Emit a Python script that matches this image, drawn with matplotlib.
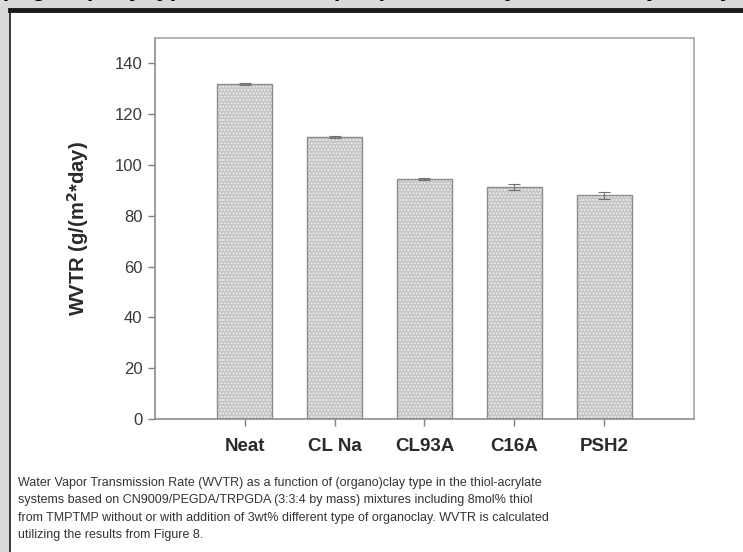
import matplotlib.pyplot as plt
from matplotlib.patches import Rectangle
from matplotlib.lines import Line2D

# WVTR per (organo)clay type
categories = ["Neat", "CL Na", "CL93A", "C16A", "PSH2"]
wvtr = [132, 111, 94.5, 91.5, 88]
wvtr_err = [0.4, 0.4, 0.4, 1.2, 1.5]

caption = ("Water Vapor Transmission Rate (WVTR) as a function of (organo)clay type in the thiol-acrylate\n"
           "systems based on CN9009/PEGDA/TRPGDA (3:3:4 by mass) mixtures including 8mol% thiol\n"
           "from TMPTMP without or with addition of 3wt% different type of organoclay. WVTR is calculated\n"
           "utilizing the results from Figure 8.")
header = "(organo)clay type on water vapor permeability of thiol-acrylate systems"

plt.rcParams['font.family'] = ['Liberation Sans', 'DejaVu Sans']
plt.rcParams['hatch.linewidth'] = 0.8

fig = plt.figure(figsize=(7.43, 5.52), dpi=100, facecolor='#d9d9d9')
W, H = 743, 552

# white page panel with black top rule and left border
fig.patches.append(Rectangle((10 / W, 0), 1, 1 - 10 / H, transform=fig.transFigure,
                             facecolor='white', edgecolor='none', zorder=-5))
fig.lines.append(Line2D([10 / W, 1], [1 - 10 / H, 1 - 10 / H], transform=fig.transFigure,
                        color='#1a1a1a', linewidth=3.5, zorder=-4))
fig.lines.append(Line2D([10 / W, 10 / W], [0, 1 - 10 / H], transform=fig.transFigure,
                        color='#1a1a1a', linewidth=1.2, zorder=-4))
# clipped header text from the page above (only descenders show)
fig.text(0 / W, 1 + 4 / H, header, fontsize=17, fontweight='bold', color='black',
         ha='left', va='baseline')

ax = fig.add_axes([155 / W, 1 - 419 / H, (694 - 155) / W, (419 - 38) / H])
ax.set_facecolor('none')

x = list(range(1, len(categories) + 1))
ax.bar(x, wvtr, width=0.61, color='#c6c6c6', edgecolor='#f2f2f2', linewidth=0,
       hatch='.....', zorder=2)
ax.bar(x, wvtr, width=0.61, fill=False, edgecolor='#8c8c8c', linewidth=1.0, zorder=3)
ax.errorbar(x, wvtr, yerr=wvtr_err, fmt='none', ecolor='#707070', elinewidth=0.8,
            capsize=4, capthick=0.8, zorder=4)

ax.set_xlim(0, 6)
ax.set_ylim(0, 150)
ax.set_yticks(range(0, 141, 20))
ax.set_xticks(x)
ax.set_xticklabels(categories, fontsize=13.5, fontweight='bold', color='#2a2a2a')
ax.tick_params(axis='y', labelsize=12, labelcolor='#3a3a3a', color='#808080',
               direction='out', length=5, width=1, pad=4)
ax.tick_params(axis='x', color='#808080', direction='out', length=5, width=1, pad=9)
for s in ax.spines.values():
    s.set_color('#8c8c8c')
    s.set_linewidth(1.2)
for s in ['top', 'right']:
    ax.spines[s].set_color('#a8a8a8')

ax.set_ylabel("WVTR (g/(m$^{\\mathbf{2}}$*day)", fontsize=14.5, fontweight='bold',
              color='#2a2a2a', labelpad=17)

fig.text(18 / W, 1 - 477 / H, caption, fontsize=9.0, color='#333333', ha='left',
         va='top', linespacing=1.6)

plt.savefig("out.png", dpi=100, facecolor=fig.get_facecolor())
